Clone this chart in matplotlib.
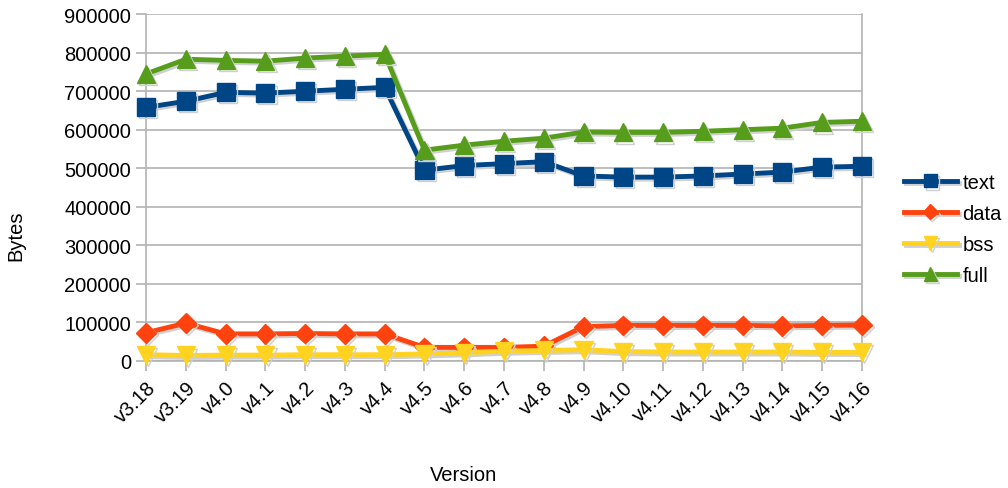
import matplotlib.pyplot as plt
import matplotlib.patheffects as pe

plt.rcParams['font.family'] = ['Liberation Sans', 'DejaVu Sans']

versions = ['v3.18', 'v3.19', 'v4.0', 'v4.1', 'v4.2', 'v4.3', 'v4.4', 'v4.5',
            'v4.6', 'v4.7', 'v4.8', 'v4.9', 'v4.10', 'v4.11', 'v4.12', 'v4.13',
            'v4.14', 'v4.15', 'v4.16']
text = [658000, 674000, 697000, 695000, 700000, 705000, 710000, 495000,
        507000, 512000, 517000, 480000, 477000, 477000, 480000, 485000,
        490000, 503000, 505000]
data = [73000, 98000, 70000, 70000, 71000, 70000, 70000, 35000,
        35000, 35000, 38000, 89000, 92000, 92000, 92000, 92000,
        91000, 92000, 93000]
bss = [16000, 14000, 15000, 15000, 16000, 16000, 16000, 18000,
       21000, 25000, 27000, 29000, 24000, 23000, 23000, 23000,
       23000, 22000, 22000]
full = [745000, 783000, 780000, 778000, 786000, 791000, 796000, 547000,
        560000, 570000, 578000, 594000, 593000, 593000, 596000, 600000,
        604000, 619000, 622000]

series = [
    ('text', text, '#004586', 's', 13),
    ('data', data, '#ff420e', 'D', 10),
    ('bss', bss, '#ffd320', 'v', 13),
    ('full', full, '#579d1c', '^', 13),
]

fig = plt.figure(figsize=(10.08, 4.89), dpi=100)
ax = fig.add_axes([0.145, 0.26, 0.71, 0.709])

x = list(range(len(versions)))
shadow = [pe.SimpleLineShadow(offset=(1.5, -1.5), shadow_color='#d0d0d0', alpha=1.0),
          pe.Normal()]
for name, vals, color, marker, ms in series:
    ax.plot(x, vals, color=color, lw=3.5, marker=marker, markersize=ms,
            label=name, path_effects=shadow, clip_on=False, zorder=3)

ax.set_xlim(0, len(versions) - 1)
ax.set_ylim(0, 900000)
ax.set_yticks(range(0, 900001, 100000))
ax.set_xticks(x)
ax.set_xticklabels(versions, rotation=45, ha='right', rotation_mode='anchor')
ax.tick_params(axis='both', labelsize=14.5, colors='#b3b3b3', labelcolor='black',
               length=7, width=1.2)
ax.tick_params(axis='x', pad=5)
ax.tick_params(axis='y', pad=4)
ax.grid(axis='y', color='#b3b3b3', lw=1.2)
ax.set_axisbelow(True)
for side in ['left', 'right', 'bottom']:
    ax.spines[side].set_color('#b3b3b3')
    ax.spines[side].set_linewidth(1.2)
ax.spines['top'].set_visible(False)

fig.text(0.016, 0.517, 'Bytes', rotation=90, va='center', ha='center', fontsize=14.5)
fig.text(0.46, 0.008, 'Version', va='bottom', ha='center', fontsize=14.5)

handles, labels = ax.get_legend_handles_labels()
fig.legend(handles, labels, loc='center left', bbox_to_anchor=(0.887, 0.53),
           frameon=False, fontsize=14.5, handlelength=2.6, labelspacing=0.6,
           handletextpad=0.3, borderpad=0, markerscale=0.75)

fig.savefig('out.png', dpi=100)
